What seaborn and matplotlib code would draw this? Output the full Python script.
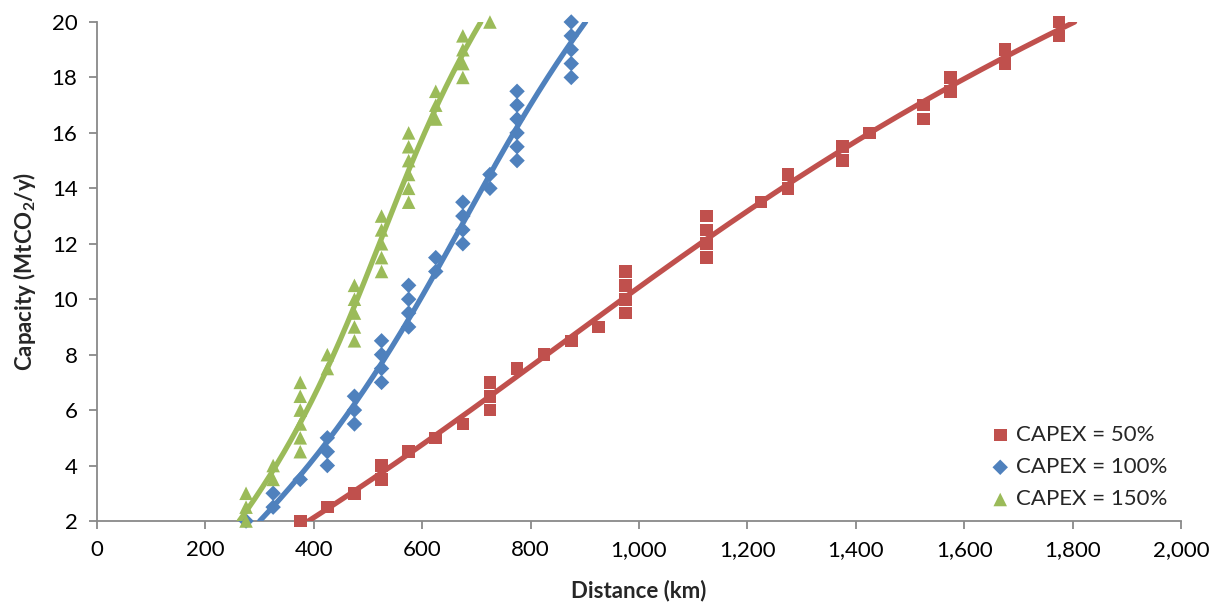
import numpy as np
import pandas as pd
import matplotlib
matplotlib.use("Agg")
import matplotlib.pyplot as plt
import seaborn as sns
from matplotlib.ticker import StrMethodFormatter

# ---------------- data ----------------
series_names = ["CAPEX = 50%", "CAPEX = 100%", "CAPEX = 150%"]

capacity = [2, 2.5, 3, 3.5, 4, 4.5, 5, 5.5, 6, 6.5, 7, 7.5, 8, 8.5, 9, 9.5, 10,
            10.5, 11, 11.5, 12, 12.5, 13, 13.5, 14, 14.5, 15, 15.5, 16, 16.5,
            17, 17.5, 18, 18.5, 19, 19.5, 20]

dist_capex50 = [375, 425, 475, 525, 525, 575, 625, 675, 725, 725, 725, 775, 825,
                875, 925, 975, 975, 975, 975, 1125, 1125, 1125, 1125, 1225, 1275,
                1275, 1375, 1375, 1425, 1525, 1525, 1575, 1575, 1675, 1675, 1775, 1775]

dist_capex100 = [275, 325, 325, 375, 425, 425, 425, 475, 475, 475, 525, 525, 525,
                 525, 575, 575, 575, 575, 625, 625, 675, 675, 675, 675, 725, 725,
                 775, 775, 775, 775, 775, 775, 875, 875, 875, 875, 875]

dist_capex150 = [275, 275, 275, 325, 325, 375, 375, 375, 375, 375, 375, 425, 425,
                 475, 475, 475, 475, 475, 525, 525, 525, 525, 525, 575, 575, 575,
                 575, 575, 575, 625, 625, 625, 675, 675, 675, 675, 725]

x_ticks = [0, 200, 400, 600, 800, 1000, 1200, 1400, 1600, 1800, 2000]
y_ticks = [2, 4, 6, 8, 10, 12, 14, 16, 18, 20]

colors = ["#C0504D", "#4F81BD", "#9BBB59"]
markers = ["s", "D", "^"]
sizes = [82, 62, 95]

# ---------------- style ----------------
sns.set_theme(style="white")
plt.rcParams["font.family"] = ["Lato", "DejaVu Sans"]
plt.rcParams["mathtext.fontset"] = "custom"
plt.rcParams["mathtext.rm"] = "Lato"
plt.rcParams["mathtext.bf"] = "Lato:bold"

FS = 16

fig = plt.figure(figsize=(12.22, 6.06), dpi=100)
ax = fig.add_axes([97 / 1222, 1 - 521 / 606, (1181 - 97) / 1222, (521 - 22) / 606])

dists = [dist_capex50, dist_capex100, dist_capex150]
for name, d, c, m, s in zip(series_names, dists, colors, markers, sizes):
    df = pd.DataFrame({"Distance": d, "Capacity": capacity})
    sns.scatterplot(data=df, x="Distance", y="Capacity", marker=m, color=c, s=s,
                    edgecolor="none", linewidth=0, label=name, ax=ax, zorder=3, clip_on=False)
    # trend line: distance fitted as a cubic polynomial of capacity
    coef = np.polyfit(df["Capacity"], df["Distance"], 3)
    ys = np.linspace(min(capacity), max(capacity), 400)
    fit = pd.DataFrame({"Distance": np.polyval(coef, ys), "Capacity": ys})
    sns.lineplot(data=fit, x="Distance", y="Capacity", color=c, linewidth=3.8,
                 sort=False, ax=ax, zorder=4, legend=False, label="_nolegend_")

ax.set_xlim(0, 2000)
ax.set_ylim(2, 20)
ax.set_xticks(x_ticks)
ax.set_yticks(y_ticks)
ax.xaxis.set_major_formatter(StrMethodFormatter("{x:,.0f}"))

for sp in ["top", "right"]:
    ax.spines[sp].set_visible(False)
for sp in ["left", "bottom"]:
    ax.spines[sp].set_color("#898989")
    ax.spines[sp].set_linewidth(1.3)

ax.tick_params(axis="both", which="major", direction="out", length=6, width=1.3,
               color="#898989", labelsize=FS, labelcolor="black", pad=8)
ax.tick_params(axis="x", bottom=True)
ax.tick_params(axis="y", left=True)

ax.set_xlabel("Distance (km)", fontsize=FS, fontweight="bold", labelpad=14)
ax.set_ylabel(r"Capacity (MtCO$_\mathbf{2}$/y)", fontsize=FS, fontweight="bold", labelpad=10)

handles, labels = ax.get_legend_handles_labels()
leg = ax.legend(handles, labels, loc="upper left", bbox_to_anchor=(978 / 1222, 1 - 416 / 606),
                bbox_transform=fig.transFigure, frameon=False, fontsize=FS,
                handletextpad=0.1, labelspacing=0.55, handlelength=1.2, borderaxespad=0)

fig.savefig("out.png", dpi=100)
